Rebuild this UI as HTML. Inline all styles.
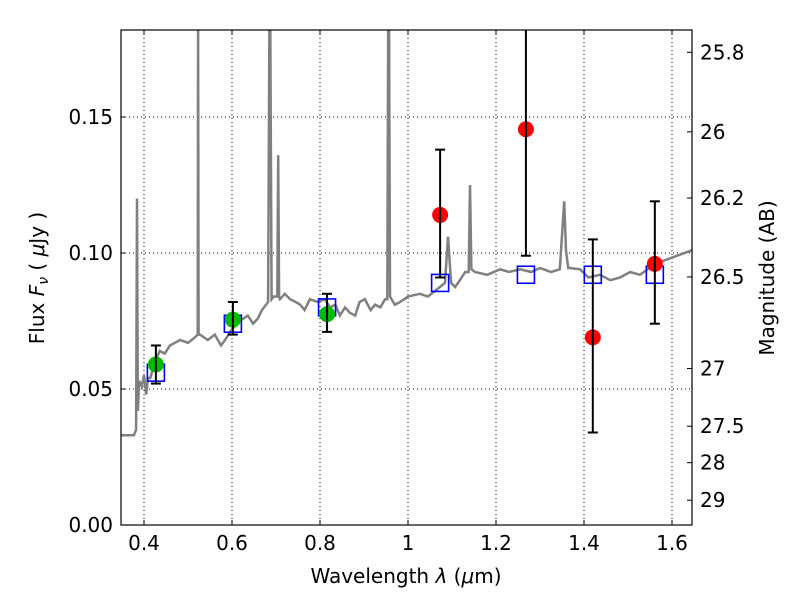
<!DOCTYPE html>
<html><head><meta charset="utf-8"><style>
body{margin:0;background:#fff}
svg text{font-family:"DejaVu Sans","Liberation Sans",sans-serif;font-size:20px;fill:#000}
</style></head><body>
<svg width="800" height="600">
<g id="grid"></g>
<g id="spec"></g>
<g id="marks" clip-path="url(#cp2)"></g>
<g id="axes"></g>
<text x="406" y="583" text-anchor="middle">Wavelength  <tspan font-style="italic">λ</tspan> (<tspan font-style="italic">μ</tspan>m)</text>
<text transform="translate(44,278) rotate(-90)" text-anchor="middle">Flux  <tspan font-style="italic">F</tspan><tspan font-style="italic" font-size="14" dy="4">ν</tspan><tspan dy="-4">  ( </tspan><tspan font-style="italic">μ</tspan>Jy )</text>
<text transform="translate(774,278) rotate(-90)" text-anchor="middle">Magnitude (AB)</text>
</svg>
<script>
const specLam=[0.348,0.377,0.382,0.384,0.386,0.389,0.395,0.400,0.405,0.409,0.414,0.425,0.436,0.447,0.459,0.470,0.482,0.500,0.516,0.522,0.523,0.524,0.527,0.545,0.561,0.575,0.584,0.600,0.618,0.636,0.648,0.659,0.668,0.682,0.685,0.687,0.690,0.695,0.703,0.705,0.707,0.709,0.720,0.732,0.745,0.755,0.765,0.777,0.795,0.811,0.823,0.835,0.845,0.857,0.868,0.880,0.890,0.902,0.915,0.925,0.937,0.948,0.953,0.955,0.957,0.959,0.970,0.982,1.000,1.027,1.045,1.061,1.084,1.091,1.098,1.107,1.118,1.130,1.138,1.141,1.144,1.152,1.180,1.209,1.230,1.255,1.280,1.300,1.325,1.345,1.355,1.359,1.364,1.368,1.391,1.410,1.436,1.460,1.482,1.505,1.527,1.545,1.561,1.595,1.645];
const specFlux=[0.033,0.033,0.035,0.120,0.042,0.053,0.051,0.055,0.048,0.054,0.054,0.060,0.064,0.063,0.066,0.067,0.068,0.067,0.069,0.070,0.25,0.070,0.070,0.068,0.070,0.066,0.068,0.072,0.075,0.077,0.074,0.076,0.079,0.082,0.25,0.25,0.083,0.084,0.084,0.136,0.084,0.083,0.085,0.083,0.082,0.081,0.079,0.083,0.082,0.083,0.080,0.081,0.077,0.080,0.078,0.077,0.082,0.083,0.079,0.081,0.080,0.083,0.083,0.25,0.25,0.084,0.081,0.082,0.084,0.085,0.084,0.086,0.089,0.106,0.089,0.0875,0.090,0.093,0.093,0.125,0.094,0.093,0.092,0.094,0.093,0.094,0.093,0.0945,0.093,0.094,0.119,0.101,0.0945,0.0945,0.094,0.091,0.092,0.090,0.091,0.093,0.092,0.094,0.096,0.098,0.101];
const sqLam=[0.427,0.602,0.816,1.073,1.268,1.42,1.561];
const sqFlux=[0.056,0.074,0.080,0.089,0.092,0.092,0.092];
const gLam=[0.427,0.602,0.816];
const gFlux=[0.059,0.0755,0.0775];
const gLo=[0.052,0.070,0.071];
const gHi=[0.066,0.082,0.085];
const rLam=[1.073,1.268,1.42,1.561];
const rFlux=[0.114,0.1455,0.069,0.096];
const rLo=[0.091,0.099,0.034,0.074];
const rHi=[0.138,0.20,0.105,0.119];
const xTicks=[0.4,0.6,0.8,1.0,1.2,1.4,1.6];
const xTickLabels=["0.4","0.6","0.8","1","1.2","1.4","1.6"];
const yTicks=[0,0.05,0.10,0.15];
const yTickLabels=["0.00","0.05","0.10","0.15"];
const magTicks=[25.8,26,26.2,26.5,27,27.5,28,29];
const magLabels=["25.8","26","26.2","26.5","27","27.5","28","29"];

const L=121,R=692,T=30,B=525;
const X=l=>144+(l-0.4)*440;
const Y=f=>Math.max(T-5,B-f*2720);
const NS="http://www.w3.org/2000/svg";
function mk(p,t,a){const e=document.createElementNS(NS,t);for(const k in a)e.setAttribute(k,a[k]);p.appendChild(e);return e;}
const grid=document.getElementById('grid'),spec=document.getElementById('spec'),marks=document.getElementById('marks'),axes=document.getElementById('axes');
const svg=document.querySelector('svg');
const defs=mk(svg,'defs',{});
const cp=mk(defs,'clipPath',{id:'cp'});mk(cp,'rect',{x:L,y:T,width:R-L,height:B-T});
const cp2=mk(defs,'clipPath',{id:'cp2'});mk(cp2,'rect',{x:L-20,y:T,width:R-L+40,height:B-T});
xTicks.forEach((v,i)=>{
 const g=mk(grid,'line',{x1:X(v),x2:X(v),y1:T,y2:B,stroke:'#000','stroke-dasharray':'1,3','stroke-width':1});
 
 
 mk(axes,'line',{x1:X(v),x2:X(v),y1:B,y2:B-5,stroke:'#000'});
 mk(axes,'line',{x1:X(v),x2:X(v),y1:T,y2:T+5,stroke:'#000'});
 const t=mk(axes,'text',{x:X(v),y:B+25,'text-anchor':'middle'});t.textContent=xTickLabels[i];
 
 
});
yTicks.forEach((v,i)=>{
 const y=B-v*2720;
 const g=mk(grid,'line',{x1:L,x2:R,y1:y,y2:y,stroke:'#000','stroke-dasharray':'1,3','stroke-width':1});
 
 
 mk(axes,'line',{x1:L,x2:L+5,y1:y,y2:y,stroke:'#000'});
 const t=mk(axes,'text',{x:L-8,y:y+7,'text-anchor':'end'});t.textContent=yTickLabels[i];
 
 
});
magTicks.forEach((m,i)=>{
 const f=Math.pow(10,(23.9-m)/2.5);const y=B-f*2720;
 mk(axes,'line',{x1:R-5,x2:R,y1:y,y2:y,stroke:'#000'});
 const t=mk(axes,'text',{x:R+8,y:y+7});t.textContent=magLabels[i];
 
 
});
let d='';specLam.forEach((l,i)=>{d+=(i?'L':'M')+X(l).toFixed(1)+','+Y(specFlux[i]).toFixed(1);});
const sp=mk(spec,'path',{d:d,fill:'none',stroke:'#808080','stroke-width':2.5,'clip-path':'url(#cp)'});


sqLam.forEach((l,i)=>{
 const s=mk(marks,'rect',{x:X(l)-8.5,y:Y(sqFlux[i])-8.5,width:17,height:17,fill:'none',stroke:'#0000ff','stroke-width':1.6});
 
 
});
function pts(lam,fl,lo,hi,col,name){
 lam.forEach((l,i)=>{
  const x=X(l);const y1=Y(lo[i]),y2=Y(hi[i]);
  const e=mk(marks,'g',{});
  
  
  mk(e,'circle',{cx:x,cy:Y(fl[i]),r:8,fill:col});
  mk(e,'line',{x1:x,x2:x,y1:y1,y2:y2,stroke:'#000','stroke-width':2});
  mk(e,'line',{x1:x-5,x2:x+5,y1:y1,y2:y1,stroke:'#000','stroke-width':2});
  mk(e,'line',{x1:x-5,x2:x+5,y1:y2,y2:y2,stroke:'#000','stroke-width':2});
 });
}
pts(gLam,gFlux,gLo,gHi,'#00bb00','green-point');
pts(rLam,rFlux,rLo,rHi,'#ff0000','red-point');
const fr=mk(axes,'rect',{x:L,y:T,width:R-L,height:B-T,fill:'none',stroke:'#000','stroke-width':1.2});


</script>
</body></html>
